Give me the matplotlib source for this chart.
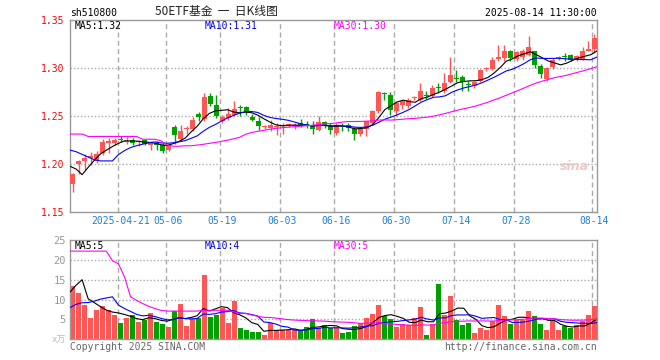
import numpy as np
import pandas as pd
import matplotlib
matplotlib.use("Agg")
import matplotlib.pyplot as plt
import matplotlib.transforms as mtrans

plt.rcParams['font.family'] = ['DejaVu Sans Mono', 'Noto Sans CJK SC']
plt.rcParams['lines.scale_dashes'] = False

# ---- data (daily, 2025-04-09 .. 2025-08-14) ----
opens = [1.1795, 1.2003, 1.2028, 1.2062, 1.2028, 1.2115, 1.2215, 1.2219, 1.2256, 1.2233,
         1.2253, 1.2226, 1.2246, 1.2201, 1.2219, 1.2194, 1.2149, 1.2385, 1.2260, 1.2361,
         1.2364, 1.2520, 1.2468, 1.2704, 1.2617, 1.2451, 1.2479, 1.2513, 1.2586, 1.2590,
         1.2492, 1.2444, 1.2382, 1.2375, 1.2386, 1.2400, 1.2392, 1.2400, 1.2427, 1.2413,
         1.2410, 1.2350, 1.2437, 1.2392, 1.2323, 1.2399, 1.2403, 1.2360, 1.2312, 1.2368,
         1.2427, 1.2556, 1.2733, 1.2715, 1.2549, 1.2618, 1.2601, 1.2685, 1.2670, 1.2718,
         1.2705, 1.2795, 1.2757, 1.2854, 1.2892, 1.2902, 1.2829, 1.2809, 1.2861, 1.2993,
         1.2993, 1.3093, 1.3104, 1.3180, 1.3093, 1.3111, 1.3132, 1.3173, 1.3017, 1.2888,
         1.3007, 1.3108, 1.3124, 1.3138, 1.3097, 1.3093, 1.3180, 1.3201]
highs = [1.1906, 1.2045, 1.2104, 1.2121, 1.2132, 1.2264, 1.2271, 1.2271, 1.2288, 1.2278,
         1.2271, 1.2253, 1.2264, 1.2243, 1.2236, 1.2219, 1.2218, 1.2402, 1.2409, 1.2392,
         1.2486, 1.2541, 1.2739, 1.2739, 1.2720, 1.2514, 1.2583, 1.2659, 1.2617, 1.2600,
         1.2520, 1.2486, 1.2410, 1.2462, 1.2427, 1.2427, 1.2427, 1.2427, 1.2472, 1.2451,
         1.2444, 1.2496, 1.2451, 1.2427, 1.2427, 1.2427, 1.2427, 1.2382, 1.2382, 1.2451,
         1.2565, 1.2757, 1.2750, 1.2750, 1.2653, 1.2670, 1.2688, 1.2705, 1.2844, 1.2757,
         1.2826, 1.2844, 1.2948, 1.3111, 1.2983, 1.2930, 1.2861, 1.2861, 1.2993, 1.3007,
         1.3111, 1.3236, 1.3236, 1.3191, 1.3180, 1.3201, 1.3330, 1.3180, 1.3041, 1.3010,
         1.3104, 1.3121, 1.3156, 1.3145, 1.3138, 1.3215, 1.3284, 1.3354]
lows = [1.1704, 1.1895, 1.1934, 1.1993, 1.2007, 1.2097, 1.2115, 1.2194, 1.2226, 1.2208,
        1.2201, 1.2184, 1.2194, 1.2149, 1.2149, 1.2115, 1.2139, 1.2208, 1.2236, 1.2312,
        1.2347, 1.2444, 1.2444, 1.2600, 1.2479, 1.2427, 1.2461, 1.2496, 1.2496, 1.2513,
        1.2444, 1.2357, 1.2364, 1.2347, 1.2298, 1.2312, 1.2382, 1.2364, 1.2382, 1.2375,
        1.2312, 1.2340, 1.2375, 1.2312, 1.2305, 1.2340, 1.2340, 1.2253, 1.2295, 1.2290,
        1.2409, 1.2531, 1.2670, 1.2514, 1.2497, 1.2576, 1.2583, 1.2663, 1.2653, 1.2677,
        1.2695, 1.2740, 1.2740, 1.2844, 1.2854, 1.2757, 1.2764, 1.2792, 1.2854, 1.2965,
        1.2982, 1.3076, 1.3069, 1.3076, 1.3076, 1.3086, 1.3121, 1.2999, 1.2895, 1.2868,
        1.2993, 1.3086, 1.3076, 1.3069, 1.3076, 1.3086, 1.3173, 1.3156]
closes = [1.1900, 1.2035, 1.2062, 1.2083, 1.2108, 1.2229, 1.2236, 1.2253, 1.2250, 1.2240,
          1.2219, 1.2232, 1.2212, 1.2226, 1.2201, 1.2132, 1.2194, 1.2305, 1.2347, 1.2367,
          1.2461, 1.2486, 1.2694, 1.2624, 1.2503, 1.2486, 1.2520, 1.2576, 1.2580, 1.2538,
          1.2458, 1.2392, 1.2388, 1.2410, 1.2392, 1.2406, 1.2416, 1.2406, 1.2392, 1.2406,
          1.2364, 1.2437, 1.2410, 1.2350, 1.2403, 1.2389, 1.2375, 1.2312, 1.2368, 1.2444,
          1.2556, 1.2747, 1.2726, 1.2566, 1.2635, 1.2653, 1.2670, 1.2691, 1.2757, 1.2712,
          1.2792, 1.2789, 1.2844, 1.2924, 1.2886, 1.2854, 1.2823, 1.2850, 1.2982, 1.2999,
          1.3079, 1.3111, 1.3180, 1.3104, 1.3166, 1.3180, 1.3215, 1.3027, 1.2937, 1.2999,
          1.3086, 1.3114, 1.3118, 1.3086, 1.3121, 1.3173, 1.3198, 1.3312]
# volume, x10k
volumes = [13.3, 11.7, 8.6, 5.3, 7.3, 8.3, 7.3, 6.1, 4.2, 5.3,
           6.1, 4.3, 4.8, 6.6, 4.4, 3.8, 3.2, 7.0, 8.8, 3.3,
           5.2, 5.4, 16.1, 5.5, 6.1, 8.0, 4.2, 9.7, 2.9, 2.3,
           1.9, 1.9, 1.1, 4.0, 2.3, 2.3, 2.3, 2.3, 2.1, 3.2,
           5.1, 2.75, 3.6, 2.75, 2.75, 1.67, 1.9, 3.3, 4.0, 5.25,
           6.3, 8.6, 5.8, 5.0, 3.2, 3.8, 3.6, 5.4, 8.2, 1.1,
           3.8, 13.8, 6.1, 10.8, 4.8, 3.6, 4.2, 1.67, 2.9, 2.3,
           4.7, 8.6, 5.8, 3.8, 4.8, 4.8, 7.1, 5.8, 3.8, 2.3,
           4.7, 2.3, 3.3, 2.9, 3.6, 4.7, 6.1, 8.3]

# moving-average values at the start of the window (history before 04-09 not shown)
ma5_head = [1.1976, 1.1948, 1.1889, 1.1965]
ma10_head = [1.2145, 1.2128, 1.2100, 1.2072, 1.2045, 1.2032, 1.2032, 1.2032, 1.2098]
ma30_head = [1.2312, 1.2312, 1.2312, 1.2287, 1.2287, 1.2287, 1.2287, 1.2287, 1.2287, 1.2287,
             1.2287, 1.2287, 1.2258, 1.2258, 1.2258, 1.2242, 1.2200, 1.2185, 1.2185, 1.2190,
             1.2190, 1.2197, 1.2205, 1.2215, 1.2225, 1.2236, 1.2248, 1.2262, 1.2278]
vma5_head = [11.9, 13.6, 15.0, 10.2]
vma10_head = [8.0, 8.8, 9.2, 9.25, 9.6, 10.1, 10.4, 10.7, 8.6]
vma30_head = [22.2, 22.2, 22.2, 22.2, 22.2, 22.2, 22.2, 19.8, 19.0, 15.7,
              10.7, 9.8, 9.0, 8.3, 7.75, 7.3, 7.1, 7.1, 7.1, 7.1,
              7.1, 7.1, 7.3, 7.3, 7.3, 7.3, 7.3, 6.9, 6.5]

tick_days = [8, 16, 25, 35, 44, 54, 64, 74, 87]
tick_labels = ['2025-04-21', '05-06', '05-19', '06-03', '06-16', '06-30', '07-14', '07-28', '08-14']

RED = '#ff5555'
GREEN = '#00a000'
GRID = '#aaaaaa'


def moving(vals, win, head):
    s = pd.Series(vals).rolling(win).mean()
    s.iloc[:len(head)] = head
    return s


o = np.array(opens); h = np.array(highs); l = np.array(lows); c = np.array(closes)
v = np.array(volumes)
n = len(c)
x = np.arange(n)
col = np.where(c >= o, RED, GREEN)

ma5 = moving(closes, 5, ma5_head)
ma10 = moving(closes, 10, ma10_head)
ma30 = moving(closes, 30, ma30_head)
vma5 = moving(volumes, 5, vma5_head)
vma10 = moving(volumes, 10, vma10_head)
vma30 = moving(volumes, 30, vma30_head)

W, H = 660, 360
fig = plt.figure(figsize=(W / 100, H / 100), dpi=100)


def box(left, top, right, bottom):
    return [left / W, 1 - bottom / H, (right - left) / W, (bottom - top) / H]


ax = fig.add_axes(box(70, 20, 597, 212))
axv = fig.add_axes(box(70, 240, 597, 339.3))

half = 2.5 / 6
xl, xr = -half, n - 1 + half
xm = np.linspace(xl, xr, n)  # MA lines span the full box

for a in (ax, axv):
    a.set_xlim(xl, xr)
    a.set_xticks([])
    for s in a.spines.values():
        s.set_color('#999999')
        s.set_linewidth(1)
    for d in tick_days:
        a.axvline(d - half, color=GRID, lw=1, ls=(0, (3.6, 2.4)), zorder=0)

# price panel
ax.set_ylim(1.15, 1.35)
pticks = [1.15, 1.20, 1.25, 1.30, 1.35]
ax.set_yticks(pticks)
ax.set_yticklabels([f"{t:.2f}" for t in pticks])
ax.tick_params(axis='y', length=0, pad=4, labelsize=7, labelcolor='red')
for t in pticks[1:-1]:
    ax.axhline(t, color=GRID, lw=1, ls=(0, (1, 1.5)), zorder=0)

ax.vlines(x, l, h, colors=col, lw=1, zorder=2)
ax.bar(x, np.maximum(np.abs(c - o), 0.0011), bottom=np.minimum(o, c), width=5 / 6,
       color=col, linewidth=0, antialiased=False, zorder=3)
ax.plot(xm, ma5, color='black', lw=0.8, zorder=4)
ax.plot(xm, ma10, color='#0000ff', lw=0.8, zorder=4)
ax.plot(xm, ma30, color='#ff00ff', lw=0.8, zorder=4)

tr = mtrans.blended_transform_factory(ax.transData, ax.transAxes)
for d, lab in zip(tick_days, tick_labels):
    ax.text(d, -0.047, lab, transform=tr, ha='center', va='center',
            color='#1f7fd6', fontsize=7)

fig.text(75 / W, 1 - 26 / H, f"MA5:{ma5.iloc[-1]:.2f}", color='black', fontsize=7, va='center')
fig.text(205 / W, 1 - 26 / H, f"MA10:{ma10.iloc[-1]:.2f}", color='#0000ff', fontsize=7, va='center')
fig.text(334 / W, 1 - 26 / H, f"MA30:{ma30.iloc[-1]:.2f}", color='#ff00ff', fontsize=7, va='center')

# volume panel
axv.set_ylim(0, 25)
vticks = [5, 10, 15, 20, 25]
axv.set_yticks(vticks)
axv.set_yticklabels([str(t) for t in vticks])
axv.tick_params(axis='y', length=0, pad=3, labelsize=7.5, labelcolor='#999999')
for t in vticks[:-1]:
    axv.axhline(t, color=GRID, lw=1, ls=(0, (1, 1.5)), zorder=0)
axv.bar(x, v, width=5 / 6, color=col, linewidth=0, antialiased=False, zorder=2)
axv.plot(xm, vma5, color='black', lw=0.8, zorder=4)
axv.plot(xm, vma10, color='#0000ff', lw=0.8, zorder=4)
axv.plot(xm, vma30, color='#ff00ff', lw=0.8, zorder=4)

fig.text(75 / W, 1 - 246 / H, f"MA5:{vma5.iloc[-1]:.0f}", color='black', fontsize=7, va='center')
fig.text(205 / W, 1 - 246 / H, f"MA10:{vma10.iloc[-1]:.0f}", color='#0000ff', fontsize=7, va='center')
fig.text(334 / W, 1 - 246 / H, f"MA30:{vma30.iloc[-1]:.0f}", color='#ff00ff', fontsize=7, va='center')
fig.text(66 / W, 1 - 340 / H, "x万", color='#bbbbbb', fontsize=6.5, ha='right', va='center')

# header / footer
fig.text(70 / W, 1 - 13 / H, "sh510800", color='black', fontsize=7, va='center')
fig.text(216 / W, 1 - 12 / H, "50ETF基金  一  日K线图", color='#222222', fontsize=8.5,
         ha='center', va='center', family=['Noto Sans CJK SC', 'DejaVu Sans'])
fig.text(597 / W, 1 - 13 / H, "2025-08-14 11:30:00", color='black', fontsize=7,
         ha='right', va='center')
fig.text(70 / W, 1 - 347 / H, "Copyright 2025 SINA.COM", color='#666666', fontsize=7, va='center')
fig.text(597 / W, 1 - 347 / H, "http://finance.sina.com.cn", color='#666666', fontsize=7,
         ha='right', va='center')
fig.text(574 / W, 1 - 167 / H, "sina", color='#f0c8c8', fontsize=9, style='italic',
         weight='bold', ha='center', va='center', family='DejaVu Sans')

fig.savefig("out.png", dpi=100)
